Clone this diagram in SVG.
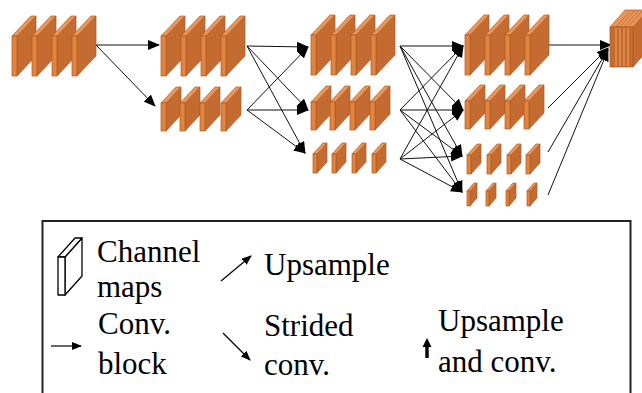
<svg xmlns="http://www.w3.org/2000/svg" xmlns:xlink="http://www.w3.org/1999/xlink" width="642" height="393" viewBox="0 0 642 393">
<style>
.side{fill:#c36b30;stroke:#b05a22;stroke-width:0.7}
.strip{fill:#e0843f;stroke:#b05a22;stroke-width:0.7}
.top{fill:#ea965a;stroke:#b05a22;stroke-width:0.7}
.conn{stroke:#111;stroke-width:1;fill:none}
.lg{font-family:"Liberation Serif","Times New Roman",serif;font-size:31px;fill:#000}
.icon{fill:#fff;stroke:#000;stroke-width:1.3;stroke-linejoin:round}
</style>
<defs>
<marker id="ah" viewBox="0 0 12 10" refX="11" refY="5" markerWidth="12" markerHeight="10" markerUnits="userSpaceOnUse" orient="auto">
<path d="M0,0 L12,5 L0,10 Z" fill="#000"/>
</marker>
<marker id="ahs" viewBox="0 0 10 8" refX="9" refY="4" markerWidth="10" markerHeight="8" markerUnits="userSpaceOnUse" orient="auto">
<path d="M0,0 L10,4 L0,8 Z" fill="#000"/>
</marker>
<g id="pL">
<polygon class="side" points="5,20 24,0 24,40 5,60"/>
<polygon class="top" points="0,20 5,20 24,0 19,0"/>
<rect class="strip" x="0" y="20" width="5" height="40"/>
</g>
<g id="pM">
<polygon class="side" points="5,16 20,0 20,28 5,44"/>
<polygon class="top" points="0,16 5,16 20,0 15,0"/>
<rect class="strip" x="0" y="16" width="5" height="28"/>
</g>
<g id="pS">
<polygon class="side" points="4,11 14,0 14,19 4,30"/>
<polygon class="top" points="0,11 4,11 14,0 10,0"/>
<rect class="strip" x="0" y="11" width="4" height="19"/>
</g>
<g id="pT">
<polygon class="side" points="3,8 10,0 10,15 3,23"/>
<polygon class="top" points="0,8 3,8 10,0 7,0"/>
<rect class="strip" x="0" y="8" width="3" height="15"/>
</g>
</defs>
<rect width="642" height="393" fill="#fff"/>

<g id="connectors">
<line class="conn" x1="96" y1="45" x2="159" y2="45" marker-end="url(#ah)"/>
<line class="conn" x1="96" y1="45" x2="155" y2="106" marker-end="url(#ah)"/>
<line class="conn" x1="247" y1="46" x2="308" y2="47" marker-end="url(#ah)"/>
<line class="conn" x1="247" y1="46" x2="308" y2="110" marker-end="url(#ah)"/>
<line class="conn" x1="247" y1="46" x2="305" y2="153" marker-end="url(#ah)"/>
<line class="conn" x1="247" y1="110" x2="308" y2="47" marker-end="url(#ah)"/>
<line class="conn" x1="247" y1="110" x2="308" y2="110" marker-end="url(#ah)"/>
<line class="conn" x1="247" y1="110" x2="305" y2="153" marker-end="url(#ah)"/>
<line class="conn" x1="400" y1="46" x2="463" y2="46" marker-end="url(#ah)"/>
<line class="conn" x1="400" y1="46" x2="463" y2="110" marker-end="url(#ah)"/>
<line class="conn" x1="400" y1="46" x2="462" y2="156" marker-end="url(#ah)"/>
<line class="conn" x1="400" y1="46" x2="462" y2="192" marker-end="url(#ah)"/>
<line class="conn" x1="400" y1="110" x2="463" y2="46" marker-end="url(#ah)"/>
<line class="conn" x1="400" y1="110" x2="463" y2="110" marker-end="url(#ah)"/>
<line class="conn" x1="400" y1="110" x2="462" y2="156" marker-end="url(#ah)"/>
<line class="conn" x1="400" y1="110" x2="462" y2="192" marker-end="url(#ah)"/>
<line class="conn" x1="400" y1="159" x2="463" y2="46" marker-end="url(#ah)"/>
<line class="conn" x1="400" y1="159" x2="463" y2="110" marker-end="url(#ah)"/>
<line class="conn" x1="400" y1="159" x2="462" y2="156" marker-end="url(#ah)"/>
<line class="conn" x1="400" y1="159" x2="462" y2="192" marker-end="url(#ah)"/>
<line class="conn" x1="549" y1="45" x2="611" y2="45" marker-end="url(#ah)"/>
<line class="conn" x1="548" y1="108" x2="608" y2="48" marker-end="url(#ah)"/>
<line class="conn" x1="548" y1="152" x2="608" y2="49" marker-end="url(#ah)"/>
<line class="conn" x1="548" y1="195" x2="608" y2="50" marker-end="url(#ah)"/>
</g>

<g id="stage1">
<use href="#pL" x="12" y="16"/><use href="#pL" x="32" y="16"/><use href="#pL" x="52" y="16"/><use href="#pL" x="72" y="16"/>
</g>
<g id="stage2-large">
<use href="#pL" x="161" y="16"/><use href="#pL" x="181" y="16"/><use href="#pL" x="201" y="16"/><use href="#pL" x="221" y="16"/>
</g>
<g id="stage2-medium">
<use href="#pM" x="161" y="87"/><use href="#pM" x="180" y="87"/><use href="#pM" x="200" y="87"/><use href="#pM" x="221" y="87"/>
</g>
<g id="stage3-large">
<use href="#pL" x="311" y="15"/><use href="#pL" x="331" y="15"/><use href="#pL" x="351" y="15"/><use href="#pL" x="371" y="15"/>
</g>
<g id="stage3-medium">
<use href="#pM" x="311" y="86"/><use href="#pM" x="330" y="86"/><use href="#pM" x="350" y="86"/><use href="#pM" x="370" y="86"/>
</g>
<g id="stage3-small">
<use href="#pS" x="313" y="143"/><use href="#pS" x="332" y="143"/><use href="#pS" x="352" y="143"/><use href="#pS" x="372" y="143"/>
</g>
<g id="stage4-large">
<use href="#pL" x="465" y="15"/><use href="#pL" x="485" y="15"/><use href="#pL" x="505" y="15"/><use href="#pL" x="525" y="15"/>
</g>
<g id="stage4-medium">
<use href="#pM" x="465" y="85"/><use href="#pM" x="485" y="85"/><use href="#pM" x="505" y="85"/><use href="#pM" x="524" y="85"/>
</g>
<g id="stage4-small">
<use href="#pS" x="467" y="144"/><use href="#pS" x="487" y="144"/><use href="#pS" x="507" y="144"/><use href="#pS" x="526" y="144"/>
</g>
<g id="stage4-tiny">
<use href="#pT" x="467" y="183"/><use href="#pT" x="486" y="183"/><use href="#pT" x="506" y="183"/><use href="#pT" x="527" y="183"/>
</g>
<g id="output">
<polygon class="side" points="633,27 648,10 648,50 633,67"/>
<polygon class="top" points="610,27 633,27 648,10 625,10"/>
<rect class="side" x="610" y="27" width="23" height="40"/>
<g stroke="#eb9a5c" stroke-width="1.2">
<line x1="616" y1="28" x2="616" y2="66"/>
<line x1="620" y1="28" x2="620" y2="66"/>
<line x1="624" y1="28" x2="624" y2="66"/>
<line x1="628" y1="28" x2="628" y2="66"/>
</g>
<g stroke="#b05a22" stroke-width="0.6">
<line x1="616" y1="27" x2="631" y2="10"/>
<line x1="620" y1="27" x2="635" y2="10"/>
<line x1="624" y1="27" x2="639" y2="10"/>
<line x1="628" y1="27" x2="643" y2="10"/>
</g>
</g>

<g id="legend">
<rect x="42.5" y="221" width="588" height="200" fill="none" stroke="#222" stroke-width="2"/>
<g id="legend-channel">
<polygon class="icon" points="65,257 82,238 82,276 65,295"/>
<polygon class="icon" points="58,257 65,257 82,238 75,238"/>
<rect class="icon" x="58" y="257" width="7" height="38"/>
<text class="lg" x="97" y="262">Channel</text>
<text class="lg" x="97" y="297">maps</text>
</g>
<g id="legend-upsample">
<line x1="221" y1="281" x2="251" y2="256" stroke="#000" stroke-width="1.2" marker-end="url(#ahs)"/>
<text class="lg" x="264" y="275">Upsample</text>
</g>
<g id="legend-conv">
<line x1="51" y1="346" x2="81" y2="346" stroke="#000" stroke-width="1.2" marker-end="url(#ahs)"/>
<text class="lg" x="98" y="334">Conv.</text>
<text class="lg" x="98" y="374">block</text>
</g>
<g id="legend-strided">
<line x1="223" y1="333" x2="250" y2="360" stroke="#000" stroke-width="1.2" marker-end="url(#ahs)"/>
<text class="lg" x="264" y="336">Strided</text>
<text class="lg" x="264" y="375">conv.</text>
</g>
<g id="legend-upconv">
<polygon points="427,338 431.5,347 428.7,347 428.7,358 425.3,358 425.3,347 422.5,347" fill="#000"/>
<text class="lg" x="438" y="331">Upsample</text>
<text class="lg" x="438" y="372">and conv.</text>
</g>
</g>
</svg>
